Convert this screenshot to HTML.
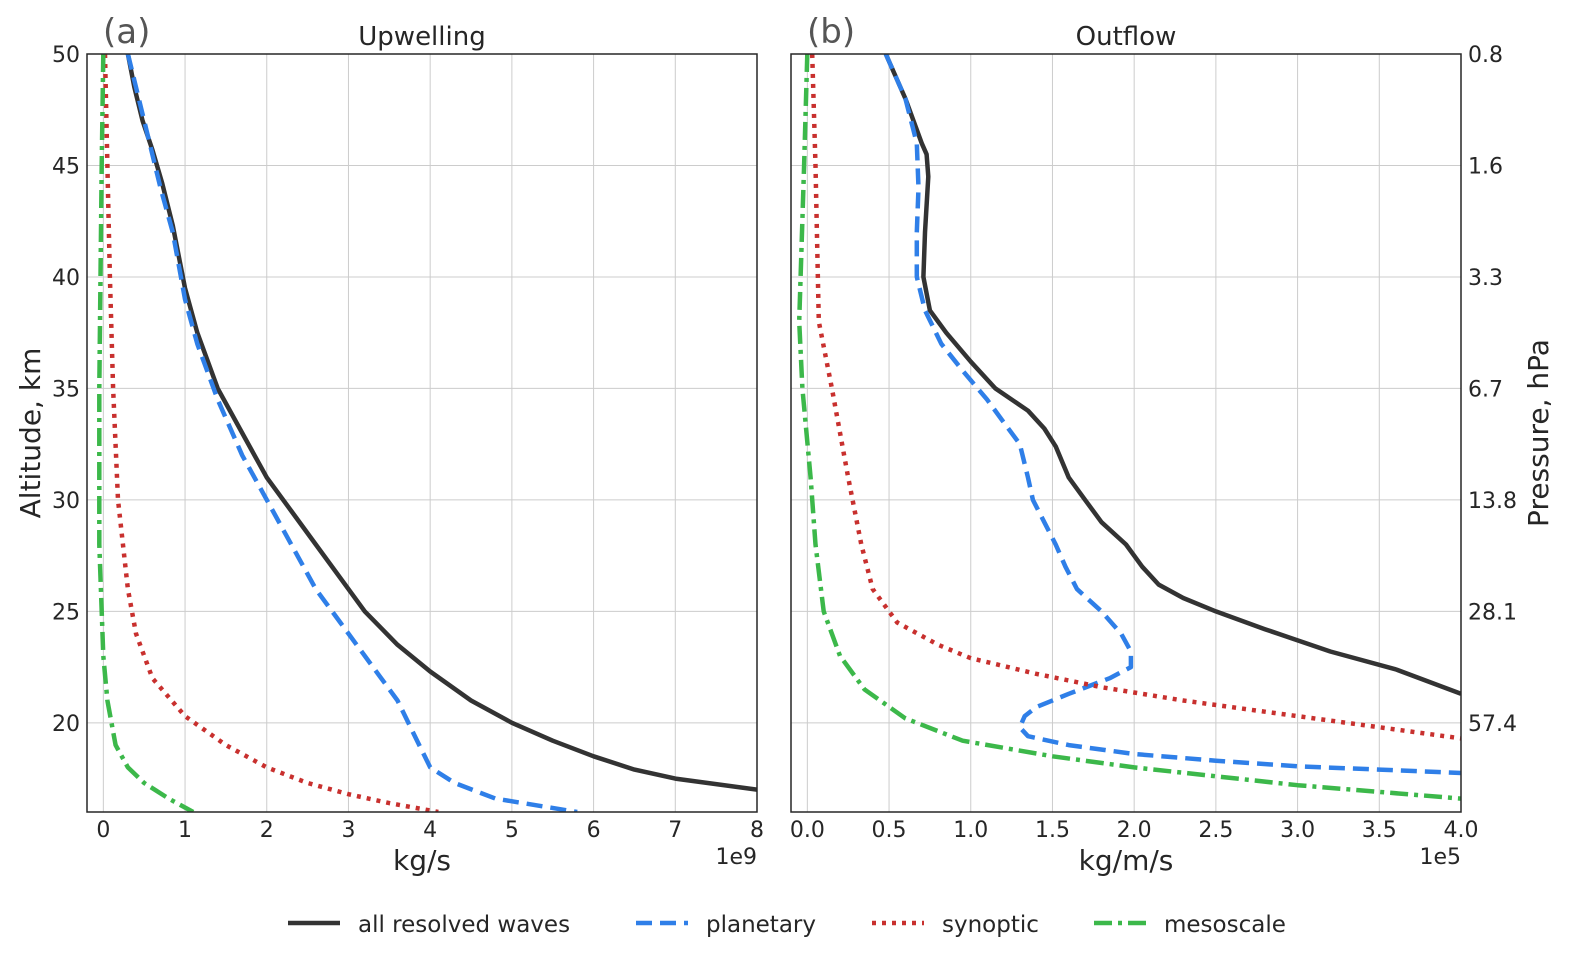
<!DOCTYPE html>
<html><head><meta charset="utf-8">
<style>
body{margin:0;background:#fff;}
svg{display:block;font-family:"DejaVu Sans","Liberation Sans",sans-serif;}
</style></head>
<body>
<svg id="chart" width="1591" height="968" viewBox="0 0 1591 968"></svg>
<script>
// ---- data ----
const altTicks = [20,25,30,35,40,45,50];
const pressureLabels = ["57.4","28.1","13.8","6.7","3.3","1.6","0.8"];
const leftXTicks = [0,1,2,3,4,5,6,7,8];
const rightXTicks = [0,0.5,1,1.5,2,2.5,3,3.5,4];
const rightXLabels = ["0.0","0.5","1.0","1.5","2.0","2.5","3.0","3.5","4.0"];
// Upwelling (x in 1e9 kg/s, altitude km)
const upAllX = [0.3,0.38,0.48,0.6,0.72,0.85,1.0,1.15,1.4,1.7,2.0,2.3,2.6,2.9,3.2,3.6,4.0,4.5,5.0,5.5,6.0,6.5,7.0,8.0];
const upAllY = [50,48.5,47,45.7,44.2,42.3,39.5,37.5,35,33,31,29.5,28,26.5,25,23.5,22.3,21,20,19.2,18.5,17.9,17.5,17];
const upPlanX = [0.3,0.5,0.7,0.85,1.0,1.15,1.4,1.7,2.0,2.3,2.6,2.9,3.3,3.6,3.8,4.0,4.3,4.8,5.8];
const upPlanY = [50,47,44,42,39,37,34.5,32,30,28,26,24.5,22.5,21,19.5,18,17.3,16.6,16];
const upSynX = [0.02,0.05,0.08,0.12,0.18,0.3,0.4,0.6,1.0,1.5,2.0,2.5,3.0,3.5,4.1];
const upSynY = [50,45,40,35,30,26,24,22,20.3,19,18,17.3,16.8,16.4,16];
const upMesoX = [0.0,-0.02,-0.05,-0.05,0.0,0.05,0.15,0.3,0.5,0.8,1.1];
const upMesoY = [50,45,35,28,23,21,19,18,17.3,16.6,16];
// Outflow (x in 1e5 kg/m/s)
const outAllX = [0.48,0.6,0.7,0.73,0.74,0.72,0.71,0.75,0.85,1.0,1.15,1.35,1.45,1.52,1.6,1.7,1.8,1.95,2.05,2.15,2.3,2.5,2.8,3.2,3.6,4.0];
const outAllY = [50,48,46,45.5,44.5,42,40,38.5,37.5,36.2,35,34,33.2,32.4,31,30,29,28,27,26.2,25.6,25,24.2,23.2,22.4,21.3];
const outPlanX = [0.48,0.6,0.67,0.68,0.67,0.67,0.72,0.82,0.95,1.1,1.2,1.3,1.35,1.38,1.45,1.52,1.58,1.65,1.8,1.92,1.98,1.98,1.85,1.6,1.4,1.33,1.3,1.35,1.6,2.0,2.5,3.0,3.5,4.0];
const outPlanY = [50,48,46,44,42,40,38.5,37,35.8,34.5,33.5,32.5,31,30,29,28,27,26,25,24,23.2,22.5,22,21.3,20.7,20.3,19.8,19.4,19.0,18.6,18.3,18.05,17.9,17.75];
const outSynX = [0.03,0.05,0.07,0.15,0.25,0.33,0.4,0.55,0.8,1.0,1.4,1.8,2.3,2.8,3.3,4.0];
const outSynY = [50,45,38,35,31,28,26,24.5,23.5,22.9,22.2,21.6,21.0,20.5,20.0,19.3];
const outMesoX = [0.0,-0.02,-0.05,-0.03,0.02,0.05,0.1,0.2,0.35,0.6,0.95,1.5,2.0,2.5,3.0,3.5,4.0];
const outMesoY = [50,45,38,35,31,28,25,23,21.5,20.2,19.2,18.5,18.0,17.6,17.2,16.9,16.6];

const NS="http://www.w3.org/2000/svg";
const svg=document.getElementById('chart');
function mk(tag,attrs,parent){const e=document.createElementNS(NS,tag);for(const k in attrs)e.setAttribute(k,attrs[k]);(parent||svg).appendChild(e);return e;}
const yTop=54,yBot=812,altMin=16,altMax=50;
const yS=a=>yBot-(a-altMin)/(altMax-altMin)*(yBot-yTop);
const styles={
 all:{stroke:"#333333",dash:""},
 plan:{stroke:"#2f7fe8",dash:"16,8"},
 syn:{stroke:"#c8302e",dash:"4,6"},
 meso:{stroke:"#3cb84a",dash:"18,6,4,6"}
};
function panel(name,x0,x1,xmin,xmax,xticks,xlabels,title,letter,series,expo,xlabel){
 const xS=v=>x0+(v-xmin)/(xmax-xmin)*(x1-x0);
 const g=mk('g',{});
 
 
 const clipId=name+'clip';
 const cp=mk('clipPath',{id:clipId},g);mk('rect',{x:x0,y:yTop,width:x1-x0,height:yBot-yTop},cp);
 xticks.forEach((t,i)=>{
  const l=mk('line',{x1:xS(t),x2:xS(t),y1:yTop,y2:yBot,stroke:"#cccccc","stroke-width":1},g);
  
  
  const tx=mk('text',{x:xS(t),y:837,"text-anchor":"middle","font-size":22,fill:"#262626"},g);
  
  
  tx.textContent=xlabels[i];
 });
 altTicks.forEach(a=>{
  const l=mk('line',{x1:x0,x2:x1,y1:yS(a),y2:yS(a),stroke:"#cccccc","stroke-width":1},g);
  
  
 });
 const sg=mk('g',{"clip-path":"url(#"+clipId+")"},g);
 series.forEach(s=>{
  const pts=s.xs.map((v,i)=>xS(v).toFixed(1)+","+yS(s.ys[i]).toFixed(1)).join(" ");
  const st=styles[s.k];
  const p=mk('polyline',{points:pts,fill:"none",stroke:st.stroke,"stroke-width":4.5,"stroke-dasharray":st.dash,"stroke-linejoin":"round"},sg);
  
  
 });
 mk('rect',{x:x0,y:yTop,width:x1-x0,height:yBot-yTop,fill:"none",stroke:"#262626","stroke-width":1.5},g);
 const t=mk('text',{x:(x0+x1)/2,y:45,"text-anchor":"middle","font-size":26,fill:"#262626"},g);
 t.textContent=title;
 const l=mk('text',{x:x0+16,y:43,"font-size":34,fill:"#555555"},g);
 l.textContent=letter;
 const e=mk('text',{x:x1,y:864,"text-anchor":"end","font-size":22,fill:"#262626"},g);
 e.textContent=expo;
 const xl=mk('text',{x:(x0+x1)/2,y:870,"text-anchor":"middle","font-size":28,fill:"#262626"},g);
 xl.textContent=xlabel;
}
panel('upwelling',87,757,-0.2,8,leftXTicks,leftXTicks.map(String),"Upwelling","(a)",
 [{k:'all',xs:upAllX,ys:upAllY},{k:'plan',xs:upPlanX,ys:upPlanY},{k:'syn',xs:upSynX,ys:upSynY},{k:'meso',xs:upMesoX,ys:upMesoY}],"1e9","kg/s");
panel('outflow',791,1461,-0.1,4,rightXTicks,rightXLabels,"Outflow","(b)",
 [{k:'all',xs:outAllX,ys:outAllY},{k:'plan',xs:outPlanX,ys:outPlanY},{k:'syn',xs:outSynX,ys:outSynY},{k:'meso',xs:outMesoX,ys:outMesoY}],"1e5","kg/m/s");
altTicks.forEach((a,i)=>{
 const t=mk('text',{x:80,y:yS(a)+8,"text-anchor":"end","font-size":22,fill:"#262626"});
 t.textContent=a;
 const p=mk('text',{x:1468,y:yS(a)+8,"font-size":22,fill:"#262626"});
 p.textContent=pressureLabels[i];
});
const yl=mk('text',{x:0,y:0,transform:"translate(40,433) rotate(-90)","text-anchor":"middle","font-size":28,fill:"#262626"});
yl.textContent="Altitude, km";
const pl=mk('text',{x:0,y:0,transform:"translate(1548,433) rotate(-90)","text-anchor":"middle","font-size":28,fill:"#262626"});
pl.textContent="Pressure, hPa";
const legendKeys=['all','plan','syn','meso'];
const legendNames=['all resolved waves','planetary','synoptic','mesoscale'];
const legendX=[288,636,872,1094];
legendKeys.forEach((k,i)=>{
 const g=mk('g',{});
 
 mk('line',{x1:legendX[i],x2:legendX[i]+52,y1:923,y2:923,stroke:styles[k].stroke,"stroke-width":4.5,"stroke-dasharray":styles[k].dash},g);
 const t=mk('text',{x:legendX[i]+70,y:932,"font-size":23,fill:"#262626"},g);
 t.textContent=legendNames[i];
});
</script>
</body></html>
